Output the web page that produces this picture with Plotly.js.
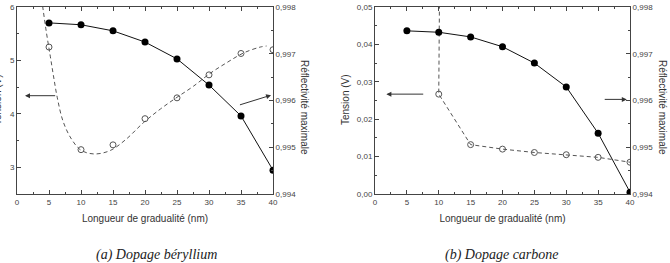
<!DOCTYPE html>
<html>
<head>
<meta charset="utf-8">
<script src="https://cdn.plot.ly/plotly-3.0.1.min.js"></script>
<style>
  html, body { margin: 0; padding: 0; background: #fff; }
  #chart { width: 670px; height: 263px; }
</style>
</head>
<body>
<div id="chart"></div>
<script>
// Graded-layer length (nm)
const gradLength = [5, 10, 15, 20, 25, 30, 35, 40];

// (a) beryllium doping
const beTension = [5.25, 3.33, 3.42, 3.91, 4.30, 4.73, 5.13, 5.20];
const beReflect = [0.99766, 0.99762, 0.99749, 0.99725, 0.99689, 0.99633, 0.99567, 0.99451];
// fitted tension trend for beryllium
const beFitX = [4.0, 4.6, 5.2, 5.7, 6.3, 7.2, 8.5, 10.0, 12.0, 14.5, 17.0, 19.8, 22.4, 25.0, 27.6, 30.2, 32.8, 35.4, 38.0, 39.0];
const beFitY = [6.02, 5.52, 5.08, 4.71, 4.30, 3.86, 3.53, 3.32, 3.25, 3.31, 3.52, 3.84, 4.09, 4.31, 4.52, 4.76, 4.96, 5.14, 5.25, 5.27];

// (b) carbon doping
const cTensionX = [10, 15, 20, 25, 30, 35, 40];
const cTension = [0.0267, 0.0132, 0.0120, 0.0111, 0.0105, 0.0098, 0.0085];
const cReflect = [0.99749, 0.99746, 0.99736, 0.99715, 0.99680, 0.99629, 0.99530, 0.99404];
// tension trace, rising off-scale below 10 nm
const cLineX = [10.15].concat(cTensionX);
const cLineY = [0.06].concat(cTension);

const xTicks = [0, 5, 10, 15, 20, 25, 30, 35, 40];

const axisColor = '#444';
const tickFont = { family: 'Liberation Sans, Arial, sans-serif', size: 8, color: '#444' };
const titleFont = { family: 'Liberation Sans, Arial, sans-serif', size: 10, color: '#333' };
const dashGray = '#555';

const W = 670, H = 263;
const px = v => v / W;
const py = v => (H - v) / H;

const yDom = [py(194), py(7)];

function xAxis(dom, anchor) {
  return {
    domain: dom, anchor: anchor, range: [0, 40],
    tickvals: xTicks, ticks: 'inside', ticklen: 4, tickcolor: axisColor,
    minor: { dtick: 2.5, ticks: 'inside', ticklen: 2, tickcolor: axisColor },
    showline: true, linecolor: axisColor, linewidth: 1, mirror: 'ticks',
    showgrid: false, zeroline: false, tickfont: tickFont,
    title: { text: 'Longueur de gradualité (nm)', font: titleFont, standoff: 9 }
  };
}

function yAxis(range, dtick, minorDtick, fmt, anchor, side, overlay) {
  const a = {
    domain: yDom, anchor: anchor, range: range, side: side,
    dtick: dtick, tick0: 0, tickformat: fmt,
    ticks: 'inside', ticklen: 4, tickcolor: axisColor,
    minor: { dtick: minorDtick, ticks: 'inside', ticklen: 2, tickcolor: axisColor },
    showline: true, linecolor: axisColor, linewidth: 1,
    showgrid: false, zeroline: false, tickfont: tickFont
  };
  if (overlay) a.overlaying = overlay;
  return a;
}

const solidLine = { color: '#111', width: 1 };
const solidMarker = { symbol: 'circle', size: 7, color: '#000' };
const openMarker = { symbol: 'circle-open', size: 6, color: dashGray, line: { width: 1 } };

const traces = [
  // (a)
  { x: beFitX, y: beFitY, xaxis: 'x', yaxis: 'y', mode: 'lines', line: { color: dashGray, width: 1, dash: '4px,3px', shape: 'spline', smoothing: 1 }, hoverinfo: 'skip' },
  { x: gradLength, y: beTension, xaxis: 'x', yaxis: 'y', mode: 'markers', marker: openMarker },
  { x: gradLength, y: beReflect, xaxis: 'x', yaxis: 'y2', mode: 'lines+markers', line: solidLine, marker: solidMarker },
  // (b)
  { x: cLineX, y: cLineY, xaxis: 'x2', yaxis: 'y3', mode: 'lines', line: { color: dashGray, width: 1, dash: '4px,3px' }, hoverinfo: 'skip' },
  { x: cTensionX, y: cTension, xaxis: 'x2', yaxis: 'y3', mode: 'markers', marker: openMarker },
  { x: gradLength, y: cReflect, xaxis: 'x2', yaxis: 'y4', mode: 'lines+markers', line: solidLine, marker: solidMarker }
];

function arrow(xr, yr, hx, hy, tx, ty) {
  return {
    xref: xr, yref: yr, axref: xr, ayref: yr,
    x: hx, y: hy, ax: tx, ay: ty, text: '',
    showarrow: true, arrowhead: 2, arrowsize: 1, arrowwidth: 1, arrowcolor: '#333'
  };
}

function label(text, xPx, yPx, angle, font) {
  return {
    xref: 'paper', yref: 'paper', x: px(xPx), y: py(yPx),
    xanchor: 'center', yanchor: 'middle', text: text, textangle: angle,
    showarrow: false, font: font
  };
}

const captionFont = { family: 'Liberation Serif, DejaVu Serif, serif', size: 14, color: '#222' };

const layout = {
  width: W, height: H,
  margin: { l: 0, r: 0, t: 0, b: 0 },
  paper_bgcolor: '#fff', plot_bgcolor: '#fff',
  showlegend: false,
  separators: ', ',
  xaxis: xAxis([px(17), px(273)], 'y'),
  yaxis: yAxis([2.5, 6], 1, 0.5, 'd', 'x', 'left'),
  yaxis2: yAxis([0.994, 0.998], 0.001, 0.0005, '.3f', 'x', 'right', 'y'),
  xaxis2: xAxis([px(375), px(630)], 'y3'),
  yaxis3: yAxis([0, 0.05], 0.01, 0.005, '.2f', 'x2', 'left'),
  yaxis4: yAxis([0.994, 0.998], 0.001, 0.0005, '.3f', 'x2', 'right', 'y3'),
  annotations: [
    arrow('x', 'y', 1.25, 4.34, 6.2, 4.34),
    arrow('x', 'y', 39.7, 4.35, 34.6, 4.16),
    arrow('x2', 'y3', 1.78, 0.0267, 7.8, 0.0267),
    arrow('x2', 'y3', 39.5, 0.0253, 35.8, 0.0253),
    label('Tension (V)', -3, 100, -90, titleFont),
    label('Réflectivité maximale', 305, 107, 90, titleFont),
    label('Tension (V)', 345, 100, -90, titleFont),
    label('Réflectivité maximale', 663, 107, 90, titleFont),
    label('<i>(a) Dopage béryllium</i>', 156, 255, 0, captionFont),
    label('<i>(b) Dopage carbone</i>', 502, 255, 0, captionFont)
  ]
};

Plotly.newPlot('chart', traces, layout, { displayModeBar: false, staticPlot: true });
</script>
</body>
</html>
